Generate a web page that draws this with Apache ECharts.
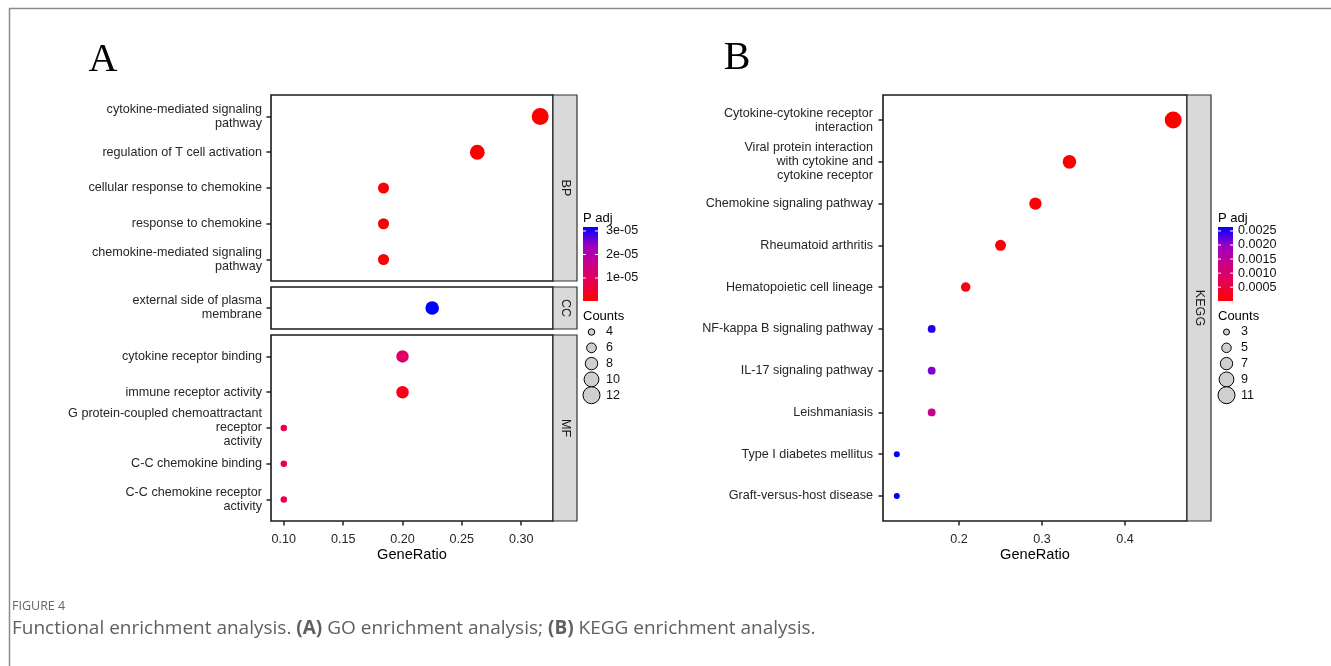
<!DOCTYPE html>
<html><head><meta charset="utf-8">
<script src="https://cdn.jsdelivr.net/npm/echarts@6/dist/echarts.min.js"></script>
<style>html,body{margin:0;padding:0;background:#fff}#c{width:1331px;height:666px}</style>
</head><body><div id="c"></div>
<script>
// ---------- Panel A : GO enrichment ----------
const bpTerms = ['cytokine-mediated signaling\npathway','regulation of T cell activation','cellular response to chemokine','response to chemokine','chemokine-mediated signaling\npathway'];
const bpRatio = [0.316, 0.263, 0.184, 0.184, 0.184];
const bpCount = [12, 10, 7, 7, 7];
const bpPadj  = [2e-7, 3e-7, 5e-7, 5e-7, 6e-7];

const ccTerms = ['external side of plasma\nmembrane'];
const ccRatio = [0.225];
const ccCount = [9];
const ccPadj  = [3.17e-5];

const mfTerms = ['cytokine receptor binding','immune receptor activity','G protein-coupled chemoattractant\nreceptor\nactivity','C-C chemokine binding','C-C chemokine receptor\nactivity'];
const mfRatio = [0.200, 0.200, 0.100, 0.100, 0.100];
const mfCount = [8, 8, 4, 4, 4];
const mfPadj  = [1.1e-5, 2.5e-6, 7.5e-6, 7.5e-6, 7.5e-6];

const goXTicks = [0.10, 0.15, 0.20, 0.25, 0.30];
const goPadjTicks = [1e-5, 2e-5, 3e-5];
const goPadjLabels = ['1e-05', '2e-05', '3e-05'];
const goCountBreaks = [4, 6, 8, 10, 12];

// ---------- Panel B : KEGG enrichment ----------
const keggTerms = ['Cytokine-cytokine receptor\ninteraction','Viral protein interaction\nwith cytokine and\ncytokine receptor','Chemokine signaling pathway','Rheumatoid arthritis','Hematopoietic cell lineage','NF-kappa B signaling pathway','IL-17 signaling pathway','Leishmaniasis','Type I diabetes mellitus','Graft-versus-host disease'];
const keggRatio = [0.458, 0.333, 0.292, 0.250, 0.208, 0.167, 0.167, 0.167, 0.125, 0.125];
const keggCount = [11, 8, 7, 6, 5, 4, 4, 4, 3, 3];
const keggPadj  = [1e-5, 3e-5, 6e-5, 8e-5, 1.5e-4, 0.0025, 0.0021, 0.00133, 0.00264, 0.00264];

const keggXTicks = [0.2, 0.3, 0.4];
const keggPadjTicks = [0.0005, 0.0010, 0.0015, 0.0020, 0.0025];
const keggPadjLabels = ['0.0005', '0.0010', '0.0015', '0.0020', '0.0025'];
const keggCountBreaks = [3, 5, 7, 9, 11];

// red (low) -> blue (high), Lab-like stops
const gradStops = ['#FF0000', '#E8004F', '#CA0089', '#9A00C3', '#0000FF'];

// ---------- helpers ----------
function sizeScale(counts, dmin, dmax) {
  const lo = Math.sqrt(Math.min(...counts)), hi = Math.sqrt(Math.max(...counts));
  return c => dmin + (dmax - dmin) * (Math.sqrt(c) - lo) / (hi - lo);
}
function expand(vals, f) {
  const lo = Math.min(...vals), hi = Math.max(...vals), r = hi - lo;
  return [lo - r * f, hi + r * f];
}
const goCounts = bpCount.concat(ccCount, mfCount);
const goSize = sizeScale(goCounts, 6.5, 17);
const keggSize = sizeScale(keggCount, 6, 17);
const goPad = bpPadj.concat(ccPadj, mfPadj);
const goPmin = Math.min(...goPad), goPmax = Math.max(...goPad);
const kPmin = Math.min(...keggPadj), kPmax = Math.max(...keggPadj);
const goX = expand(bpRatio.concat(ccRatio, mfRatio), 0.05);
const kX = expand(keggRatio, 0.05);

function pts(ratio, count, padj) {
  return ratio.map((r, i) => [r, i + 1, padj[i], count[i]]);
}

const TXT = '#262626';
const FONT = '"Liberation Sans", Arial, sans-serif';
const FS = 12.6;

const grids = [
  { left: 271, top: 95, width: 282, height: 186 },   // BP
  { left: 271, top: 287, width: 282, height: 42 },   // CC
  { left: 271, top: 335, width: 282, height: 186 },  // MF
  { left: 883, top: 95, width: 304, height: 426 }    // KEGG
].map(g => Object.assign(g, { show: true, backgroundColor: 'transparent', borderColor: '#1a1a1a', borderWidth: 1.6 }));

function xAxisCfg(idx, range, ticks, showLabels, digits) {
  return {
    type: 'value', gridIndex: idx, min: range[0], max: range[1],
    splitLine: { show: false }, axisLine: { show: false },
    axisTick: { show: showLabels, length: 4.5, lineStyle: { color: '#222', width: 1.5 }, customValues: ticks },
    axisLabel: { show: showLabels, customValues: ticks, formatter: v => v.toFixed(digits), color: TXT, fontSize: FS, fontFamily: FONT, margin: 12 },
    name: showLabels ? 'GeneRatio' : '', nameLocation: 'middle', nameGap: 26, nameMoveOverlap: false,
    nameTextStyle: { color: '#000', fontSize: 14.6, fontFamily: FONT }
  };
}
function yAxisCfg(idx, terms, margin) {
  const vals = terms.map((t, i) => i + 1);
  return {
    type: 'value', gridIndex: idx, inverse: true, min: 0.4, max: terms.length + 0.6,
    splitLine: { show: false }, axisLine: { show: false },
    axisTick: { show: true, length: 4.5, lineStyle: { color: '#222', width: 1.5 }, customValues: vals },
    axisLabel: { customValues: vals, formatter: v => terms[Math.round(v) - 1], color: TXT, fontSize: FS, fontFamily: FONT, lineHeight: 14, margin: margin, align: 'right' }
  };
}

function scatter(idx, data, sz) {
  return { type: 'scatter', xAxisIndex: idx, yAxisIndex: idx, data: data, symbol: 'circle',
    symbolSize: v => sz(v[3]), itemStyle: { opacity: 1 }, emphasis: { disabled: true }, silent: true };
}

// ---------- graphics (strips, legends, labels, caption) ----------
const g = [];
// frame
g.push({ type: 'line', shape: { x1: 9, y1: 8.5, x2: 1331, y2: 8.5 }, style: { stroke: '#8c8c8c', lineWidth: 1.5 } });
g.push({ type: 'line', shape: { x1: 9.5, y1: 8, x2: 9.5, y2: 666 }, style: { stroke: '#8c8c8c', lineWidth: 1.5 } });
// panel letters
g.push({ type: 'text', x: 103, y: 60, style: { text: 'A', font: '40px "Liberation Serif", "DejaVu Serif", serif', fill: '#000', align: 'center', verticalAlign: 'middle' } });
g.push({ type: 'text', x: 737, y: 58, style: { text: 'B', font: '40px "Liberation Serif", "DejaVu Serif", serif', fill: '#000', align: 'center', verticalAlign: 'middle' } });
// strips
const stripLabels = ['BP', 'CC', 'MF', 'KEGG'];
grids.forEach((gr, i) => {
  const x = gr.left + gr.width, w = 24;
  g.push({ type: 'rect', shape: { x: x, y: gr.top, width: w, height: gr.height }, style: { fill: '#D9D9D9', stroke: '#333', lineWidth: 1.2 } });
  g.push({ type: 'text', x: x + w / 2, y: gr.top + gr.height / 2, rotation: -Math.PI / 2,
    style: { text: stripLabels[i], font: FS + 'px ' + FONT, fill: '#1a1a1a', align: 'center', verticalAlign: 'middle' } });
});
// legends
function legend(x0, ticks, labels, pmin, pmax, breaks, sz, labX) {
  const barTop = 227, barH = 74, barW = 15;
  g.push({ type: 'text', x: x0, y: 218, style: { text: 'P adj', font: '13px ' + FONT, fill: '#000', verticalAlign: 'middle' } });
  const stops = gradStops.map((c, i) => ({ offset: i / (gradStops.length - 1), color: c }));
  g.push({ type: 'rect', shape: { x: x0, y: barTop, width: barW, height: barH },
    style: { fill: new echarts.graphic.LinearGradient(0, 1, 0, 0, stops) } });
  ticks.forEach((t, i) => {
    const y = barTop + barH - (t - pmin) / (pmax - pmin) * barH;
    g.push({ type: 'line', shape: { x1: x0, y1: y, x2: x0 + 3, y2: y }, style: { stroke: '#fff', lineWidth: 1 } });
    g.push({ type: 'line', shape: { x1: x0 + barW - 3, y1: y, x2: x0 + barW, y2: y }, style: { stroke: '#fff', lineWidth: 1 } });
    g.push({ type: 'text', x: x0 + barW + labX, y: y, style: { text: labels[i], font: '12.6px ' + FONT, fill: '#111', verticalAlign: 'middle' } });
  });
  g.push({ type: 'text', x: x0, y: 316, style: { text: 'Counts', font: '13px ' + FONT, fill: '#000', verticalAlign: 'middle' } });
  breaks.forEach((b, i) => {
    const y = 332 + i * 15.8;
    g.push({ type: 'circle', shape: { cx: x0 + 8.5, cy: y, r: sz(b) / 2 }, style: { fill: '#CFCFCF', stroke: '#000', lineWidth: 1 } });
    g.push({ type: 'text', x: x0 + barW + 8, y: y, style: { text: String(b), font: '12.6px ' + FONT, fill: '#111', verticalAlign: 'middle' } });
  });
}
legend(583, goPadjTicks, goPadjLabels, goPmin, goPmax, goCountBreaks, goSize, 8);
legend(1218, keggPadjTicks, keggPadjLabels, kPmin, kPmax, keggCountBreaks, keggSize, 5);
// caption
g.push({ type: 'text', x: 12, y: 606, style: { text: 'FIGURE 4', font: '12.5px "Open Sans", sans-serif', fill: '#666', verticalAlign: 'middle' } });
g.push({ type: 'text', x: 12, y: 629, style: {
  text: 'Functional enrichment analysis. {b|(A)} GO enrichment analysis; {b|(B)} KEGG enrichment analysis.',
  font: '19px "Open Sans", sans-serif', fill: '#606060', verticalAlign: 'middle',
  rich: { b: { font: 'bold 19px "Open Sans", sans-serif', fill: '#606060' } } } });

const chart = echarts.init(document.getElementById('c'), null, { renderer: 'canvas' });
chart.setOption({
  animation: false,
  backgroundColor: '#fff',
  grid: grids,
  xAxis: [
    xAxisCfg(0, goX, goXTicks, false, 2),
    xAxisCfg(1, goX, goXTicks, false, 2),
    xAxisCfg(2, goX, goXTicks, true, 2),
    xAxisCfg(3, kX, keggXTicks, true, 1)
  ],
  yAxis: [yAxisCfg(0, bpTerms, 9), yAxisCfg(1, ccTerms, 9), yAxisCfg(2, mfTerms, 9), yAxisCfg(3, keggTerms, 10)],
  visualMap: [
    { type: 'continuous', show: false, dimension: 2, seriesIndex: [0, 1, 2], min: goPmin, max: goPmax, inRange: { color: gradStops } },
    { type: 'continuous', show: false, dimension: 2, seriesIndex: [3], min: kPmin, max: kPmax, inRange: { color: gradStops } }
  ],
  series: [
    scatter(0, pts(bpRatio, bpCount, bpPadj), goSize),
    scatter(1, pts(ccRatio, ccCount, ccPadj), goSize),
    scatter(2, pts(mfRatio, mfCount, mfPadj), goSize),
    scatter(3, pts(keggRatio, keggCount, keggPadj), keggSize)
  ],
  graphic: g
});
</script>
</body></html>
